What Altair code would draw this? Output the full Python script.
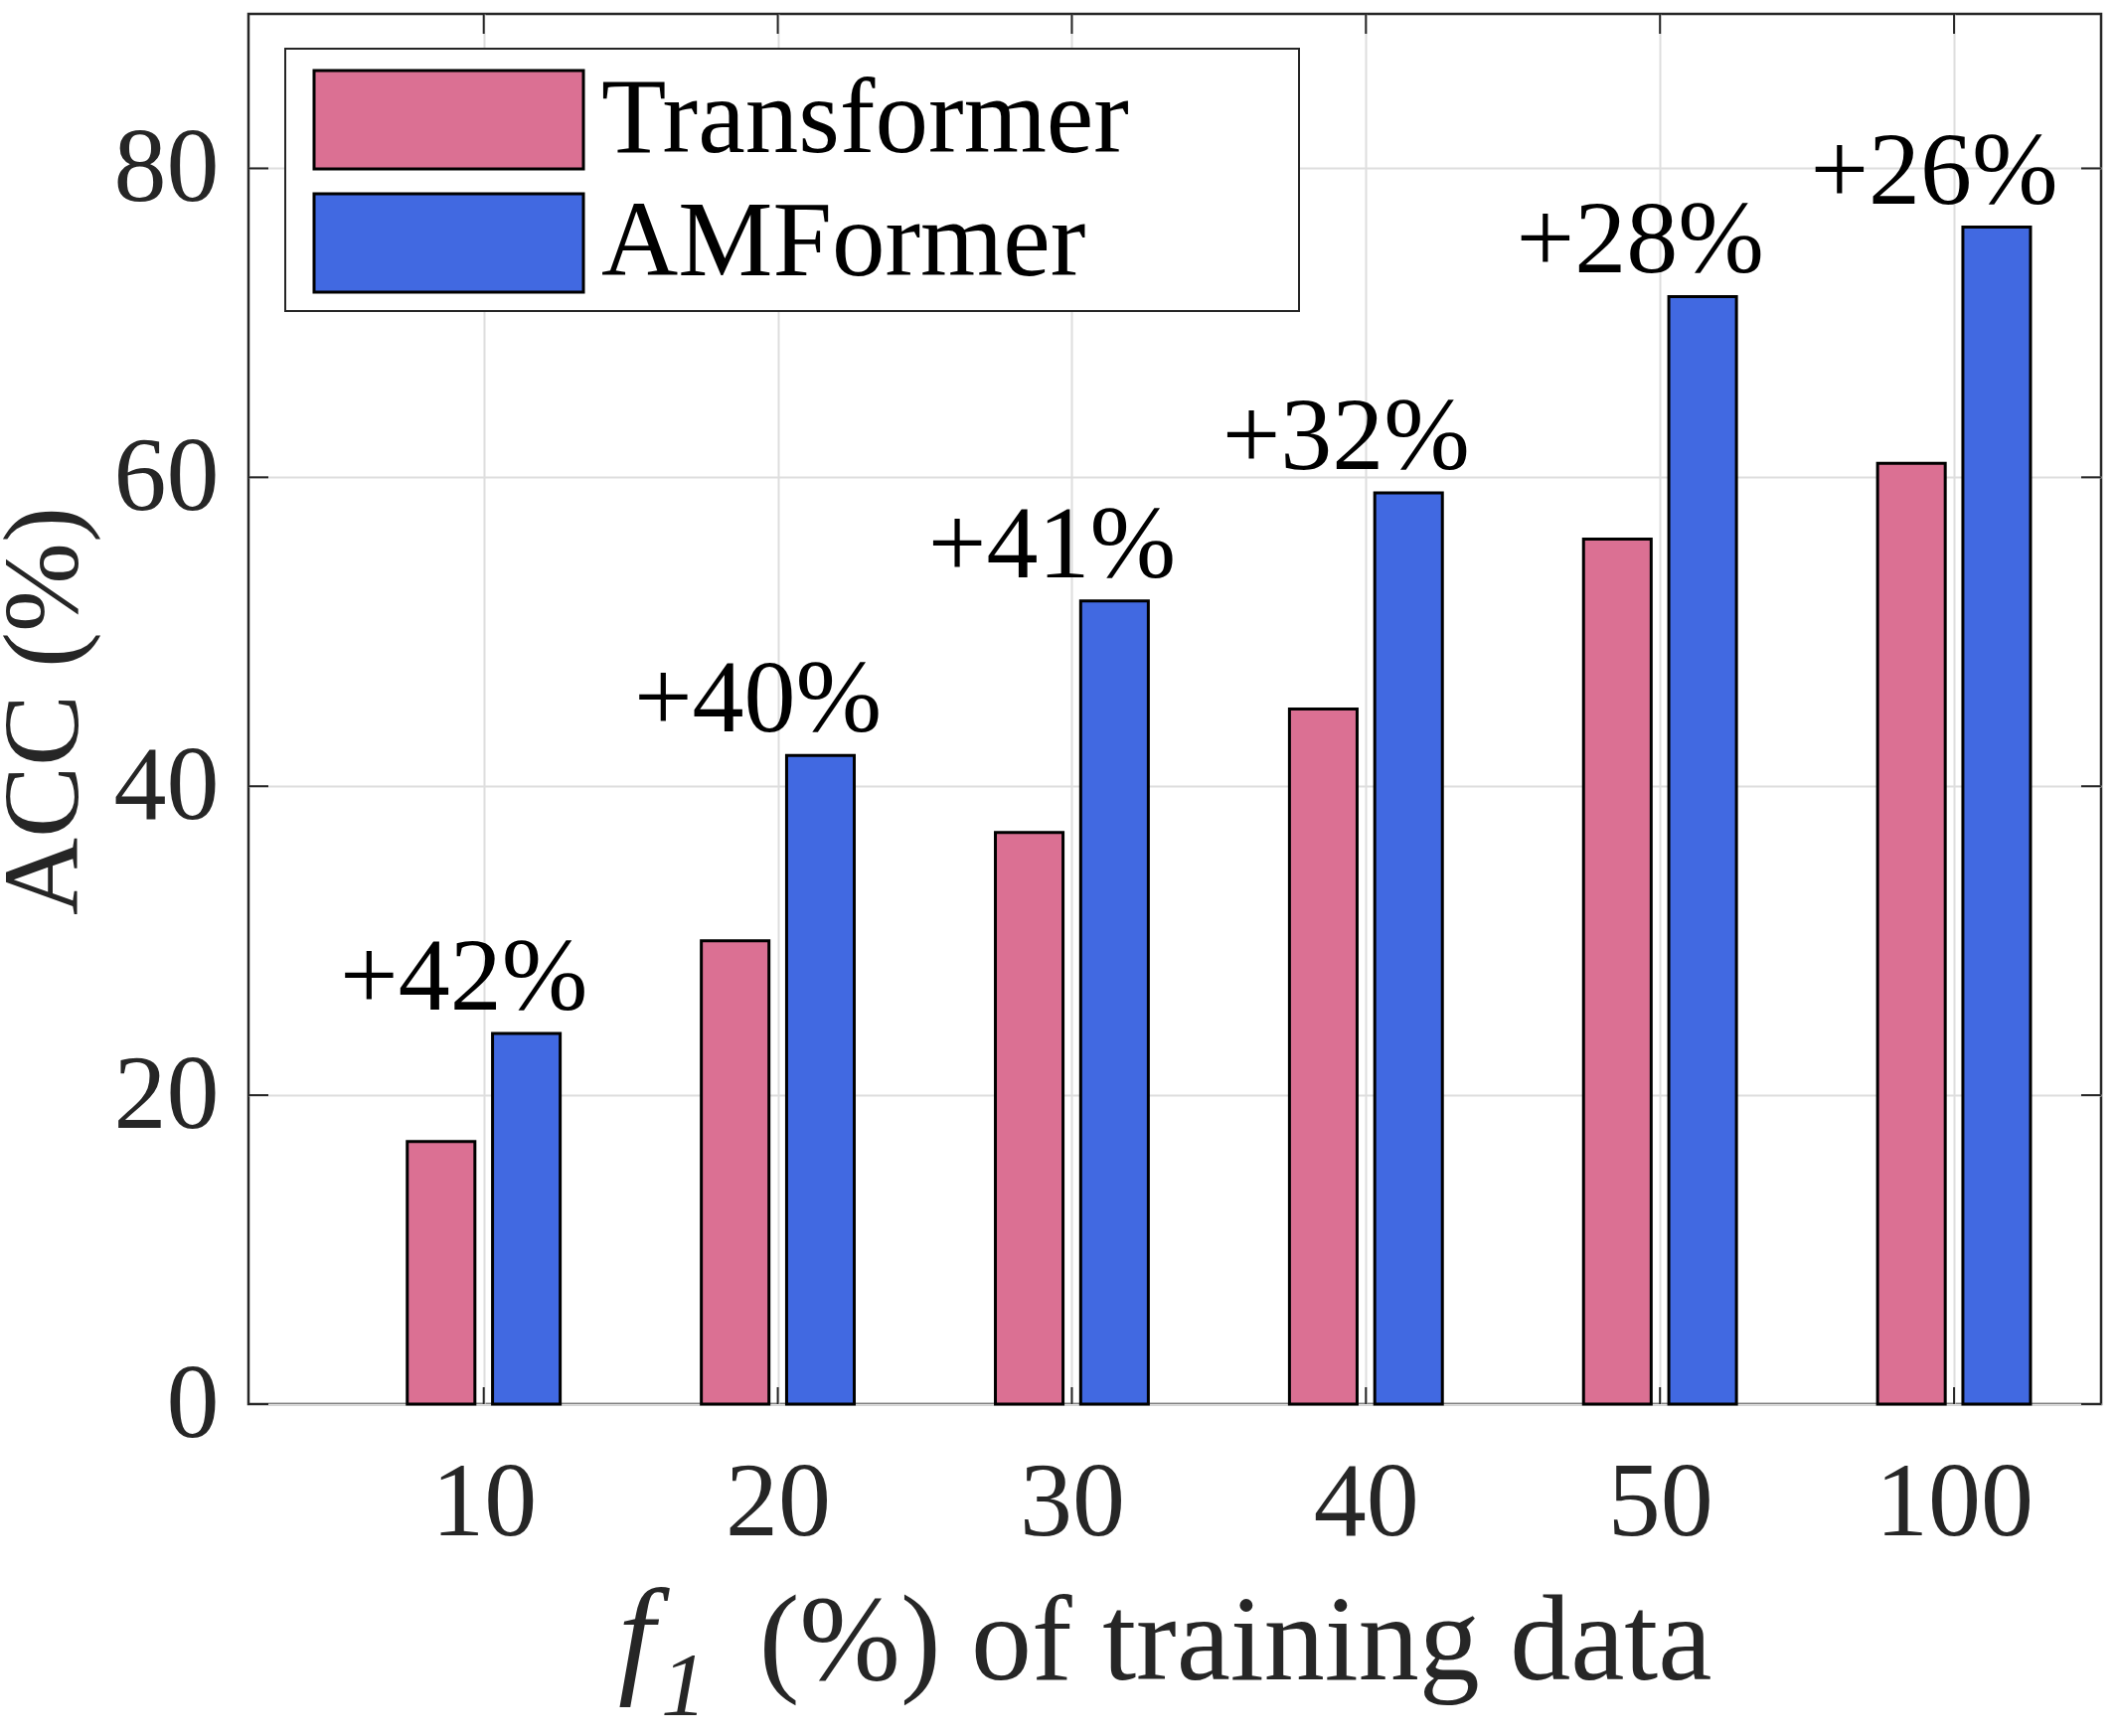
import altair as alt
import pandas as pd

# ---- data ----
categories = ["10", "20", "30", "40", "50", "100"]
transformer = [17.0, 30.0, 37.0, 45.0, 56.0, 60.9]
amformer = [24.0, 42.0, 52.0, 59.0, 71.7, 76.2]
gains = ["+42%", "+40%", "+41%", "+32%", "+28%", "+26%"]
series = ["Transformer", "AMFormer"]
colors = ["#DB7093", "#4169E1"]
y_ticks = [0, 20, 40, 60, 80]
y_title = "ACC (%)"
x_title_var = "f"
x_title_sub = "1"
x_title_rest = "(%) of training data"

positions = list(range(1, len(categories) + 1))

rows = []
for i, p in enumerate(positions):
    rows.append({"pos": p, "model": series[0], "value": transformer[i], "side": -1})
    rows.append({"pos": p, "model": series[1], "value": amformer[i], "side": 1})
bars_df = pd.DataFrame(rows)
ann_df = pd.DataFrame({"pos": positions, "value": amformer, "label": gains})
xt_df = pd.DataFrame({"pos": positions})
yt_df = pd.DataFrame({"value": y_ticks})

W, H = 1864, 1399
FONT = "Liberation Serif"
AX = "#262626"
GRID = "#dedede"
label_expr = "[" + ",".join(f"'{c}'" for c in categories) + "][datum.value - 1]"

x_scale = alt.Scale(domain=[0.2, 6.5], nice=False, zero=False)
y_scale = alt.Scale(domain=[0, 90], nice=False)

x_axis = alt.Axis(values=positions, labelExpr=label_expr, grid=True,
                  gridColor=GRID, gridWidth=2, ticks=False, tickSize=0,
                  domain=False, labelFont=FONT, labelFontSize=106,
                  labelColor=AX, labelPadding=47, labelOverlap=False,
                  labelFlush=False, title=None)
y_axis = alt.Axis(values=y_ticks, grid=True, gridColor=GRID, gridWidth=2,
                  ticks=False, tickSize=0, domain=False,
                  labelFont=FONT, labelFontSize=106, labelColor=AX,
                  labelPadding=30, title=y_title, titleFont=FONT,
                  titleFontSize=108, titleFontWeight="normal",
                  titleColor=AX, titleX=-205, titleY=701, titleAngle=270,
                  titleBaseline="middle", titleAlign="center")

bars = alt.Chart(bars_df).transform_calculate(
    x0="datum.pos + (datum.side < 0 ? -0.26 : 0.03)",
    x1="datum.pos + (datum.side < 0 ? -0.03 : 0.26)",
).mark_bar(stroke="black", strokeWidth=3, opacity=1).encode(
    x=alt.X("x0:Q", scale=x_scale, axis=x_axis, title=None),
    x2="x1:Q",
    y=alt.Y("value:Q", scale=y_scale, axis=y_axis, title=y_title),
    y2=alt.datum(0),
    color=alt.Color("model:N", sort=series,
                    scale=alt.Scale(domain=series, range=colors),
                    legend=alt.Legend(
                        title=None, orient="none", legendX=62, legendY=53,
                        symbolType="M-1,-1L4.475,-1L4.475,1L-1,1Z",
                        symbolSize=9801, symbolStrokeColor="black",
                        symbolStrokeWidth=3, symbolOpacity=1,
                        labelFont=FONT, labelFontSize=107, labelColor="black",
                        labelLimit=3000, labelOffset=186,
                        padding=0, rowPadding=13)),
)

# legend frame (white box behind the legend entries)
frame = alt.Chart(pd.DataFrame({"k": [0]})).mark_rect(
    fill="white", stroke=AX, strokeWidth=2).encode(
    x=alt.value(37), x2=alt.value(1057), y=alt.value(35), y2=alt.value(299))

ann = alt.Chart(ann_df).mark_text(
    font=FONT, fontSize=104, color="black", align="center",
    baseline="alphabetic", dx=-20, dy=-24,
).encode(
    x=alt.X("pos:Q", scale=x_scale, axis=x_axis, title=None),
    y=alt.Y("value:Q", scale=y_scale, axis=y_axis, title=y_title),
    text="label:N",
)

tick_style = dict(color=AX, strokeWidth=2)
left_ticks = alt.Chart(yt_df).mark_rule(**tick_style).encode(
    y=alt.Y("value:Q", scale=y_scale, axis=y_axis, title=y_title),
    x=alt.value(0), x2=alt.value(20))
right_ticks = alt.Chart(yt_df).mark_rule(**tick_style).encode(
    y=alt.Y("value:Q", scale=y_scale, axis=y_axis, title=y_title),
    x=alt.value(W), x2=alt.value(W - 20))
top_ticks = alt.Chart(xt_df).mark_rule(**tick_style).encode(
    x=alt.X("pos:Q", scale=x_scale, axis=x_axis, title=None),
    y=alt.value(0), y2=alt.value(20))
bottom_ticks = alt.Chart(xt_df).mark_rule(**tick_style).encode(
    x=alt.X("pos:Q", scale=x_scale, axis=x_axis, title=None),
    y=alt.value(H), y2=alt.value(H - 17))

xt_var = alt.Chart(pd.DataFrame({"t": [x_title_var]})).mark_text(
    font=FONT, fontStyle="italic", fontSize=132, color=AX, align="left",
    baseline="alphabetic").encode(x=alt.value(372), y=alt.value(1676), text="t:N")
xt_sub = alt.Chart(pd.DataFrame({"t": [x_title_sub]})).mark_text(
    font=FONT, fontStyle="italic", fontSize=92, color=AX, align="center",
    baseline="alphabetic").encode(x=alt.value(438), y=alt.value(1712), text="t:N")
xt_rest = alt.Chart(pd.DataFrame({"t": [x_title_rest]})).mark_text(
    font=FONT, fontSize=122, color=AX, align="center",
    baseline="alphabetic").encode(x=alt.value(993), y=alt.value(1676), text="t:N")

chart = alt.layer(
    bars, frame, ann, left_ticks, right_ticks, top_ticks, bottom_ticks,
    xt_var, xt_sub, xt_rest,
).properties(
    width=W, height=H,
    autosize=alt.AutoSizeParams(type="none"),
    padding={"left": 250, "top": 14, "right": 14, "bottom": 334},
).configure_view(
    stroke=AX, strokeWidth=2.5
)

chart.save("out.html", embed_options={"renderer": "svg", "actions": False})
